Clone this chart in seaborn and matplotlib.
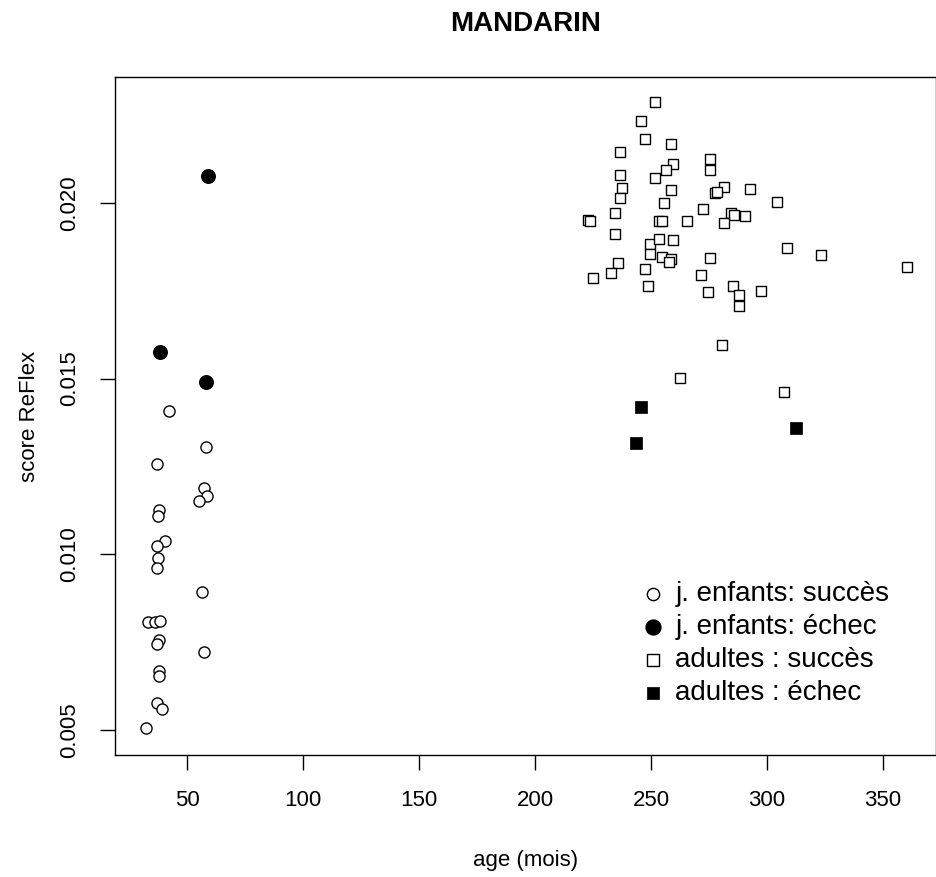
import matplotlib

matplotlib.use("Agg")
import matplotlib.pyplot as plt
import numpy as np
import pandas as pd
import seaborn as sns

# jeunes enfants : succès
enf_succes_age = [42.2, 58.2, 37.2, 57.3, 58.5, 55.2, 38.1, 37.4, 40.5, 37.2, 37.4, 37.2,
                  56.3, 33.1, 36.2, 38.4, 38.1, 37.2, 57.3, 38.1, 38.1, 37.2, 39.4, 32.3]
enf_succes_score = [0.01407, 0.01305, 0.01257, 0.01190, 0.01166, 0.01152, 0.01127, 0.01108,
                    0.01039, 0.01025, 0.00989, 0.00961, 0.00893, 0.00808, 0.00808, 0.00811,
                    0.00756, 0.00745, 0.00723, 0.00669, 0.00655, 0.00577, 0.00560, 0.00505]

# jeunes enfants : échec
enf_echec_age = [59.2, 38.4, 58.2]
enf_echec_score = [0.02075, 0.01575, 0.01489]

# adultes : succès
adu_succes_age = [262.6, 307.5, 292.5, 304.4, 308.5, 323.4, 360.3, 297.5,
                  251.6, 245.6, 247.6, 258.6, 236.6, 275.5, 259.6, 256.5, 275.5, 236.6,
                  251.6, 237.6, 258.5, 281.5, 277.6, 278.6, 236.6, 255.6, 272.5, 234.6,
                  222.8, 223.7, 253.6, 254.6, 265.5, 284.6, 285.8, 290.6, 281.5, 234.6,
                  249.6, 253.6, 259.6, 249.6, 254.6, 258.5, 257.8, 275.5, 235.6, 232.6,
                  247.6, 224.8, 271.6, 248.6, 274.6, 285.5, 287.7, 287.7, 280.5]
adu_succes_score = [0.01501, 0.01463, 0.02039, 0.02002, 0.01871, 0.01852, 0.01818, 0.01748,
                    0.02288, 0.02232, 0.02182, 0.02168, 0.02146, 0.02124, 0.02111, 0.02094,
                    0.02092, 0.02078, 0.02072, 0.02041, 0.02037, 0.02045, 0.02028, 0.02030,
                    0.02013, 0.02000, 0.01983, 0.01972, 0.01952, 0.01948, 0.01949, 0.01949,
                    0.01948, 0.01970, 0.01964, 0.01962, 0.01944, 0.01912, 0.01884, 0.01897,
                    0.01894, 0.01853, 0.01847, 0.01839, 0.01831, 0.01842, 0.01830, 0.01799,
                    0.01813, 0.01785, 0.01794, 0.01763, 0.01746, 0.01763, 0.01739, 0.01706,
                    0.01595]

# adultes : échec
adu_echec_age = [245.6, 243.7, 312.4]
adu_echec_score = [0.01418, 0.01316, 0.01359]

x_ticks = [50, 100, 150, 200, 250, 300, 350]
y_ticks = [0.005, 0.010, 0.015, 0.020]

sns.set_style("ticks")
plt.rcParams["font.family"] = ["Liberation Sans", "DejaVu Sans"]
plt.rcParams.update({"text.color": "black", "axes.labelcolor": "black",
                     "xtick.color": "black", "ytick.color": "black"})

fig = plt.figure(figsize=(9.37, 8.77), dpi=100)
ax = fig.add_axes([115 / 937, 1 - 755 / 877, 821 / 937, 678 / 877])

groupes = [
    (enf_succes_age, enf_succes_score, "j. enfants: succès", "o", "white", "black", 64, 1.0),
    (enf_echec_age, enf_echec_score, "j. enfants: échec", "o", "black", "black", 95, 1.0),
    (adu_succes_age, adu_succes_score, "adultes : succès", "s", "white", "black", 58, 1.0),
    (adu_echec_age, adu_echec_score, "adultes : échec", "s", "black", "black", 72, 0.5),
]
for age, score, label, marker, face, edge, size, lw in groupes:
    df = pd.DataFrame({"age": age, "score": score})
    sns.scatterplot(data=df, x="age", y="score", ax=ax, marker=marker, s=size,
                    facecolor=face, edgecolor=edge, linewidth=lw, label=label, zorder=3)

ax.set_xlim(18.97, 372.8)
ax.set_ylim(0.00429, 0.02358)
ax.set_xticks(x_ticks)
ax.set_xticklabels([str(t) for t in x_ticks])
ax.set_yticks(y_ticks)
ax.set_yticklabels([f"{t:.3f}" for t in y_ticks], rotation=90, va="center")
ax.tick_params(axis="both", direction="out", length=11, width=1, labelsize=16, pad=14)
for spine in ax.spines.values():
    spine.set_visible(True)
    spine.set_linewidth(1)
    spine.set_color("black")

ax.set_xlabel("age (mois)", fontsize=16, labelpad=28)
ax.set_ylabel("score ReFlex", fontsize=16, labelpad=14)
ax.set_title("MANDARIN", fontsize=20, fontweight="bold", pad=33)

ax.legend(loc="upper left", bbox_to_anchor=(0.642, 0.2565), frameon=False, fontsize=20,
          handlelength=0.8, handletextpad=0.4, borderpad=0, borderaxespad=0,
          labelspacing=0.25, markerscale=1.1)

fig.savefig("out.png", dpi=100)
